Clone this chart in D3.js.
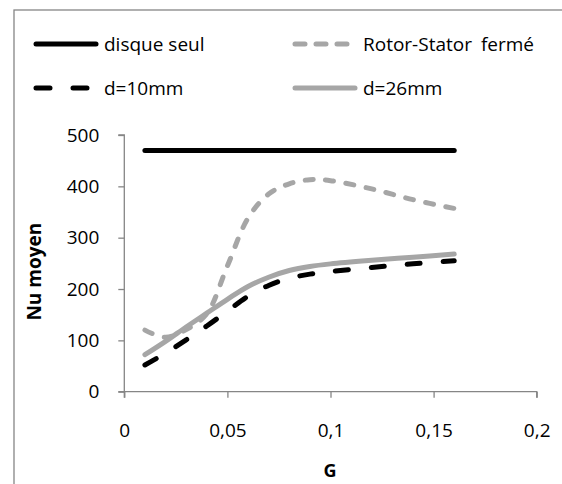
<!DOCTYPE html>
<html>
<head>
<meta charset="utf-8">
<script src="https://cdn.jsdelivr.net/npm/d3@7"></script>
<style>
  html, body { margin: 0; padding: 0; background: #fff; }
  svg { display: block; font-family: "Open Sans", sans-serif; }
</style>
</head>
<body>
<svg id="chart" width="562" height="484"></svg>
<script>
// Mean Nusselt number versus gap ratio G
const gValues = [0.01, 0.02, 0.03, 0.04, 0.05, 0.06, 0.07, 0.08, 0.09, 0.1, 0.12, 0.14, 0.16];
const disqueSeul = [470, 470, 470, 470, 470, 470, 470, 470, 470, 470, 470, 470, 470];
const rotorStator = [120, 106, 121, 152, 245, 338, 385, 405, 413, 411, 395, 374, 357];
const d10 = [52, 75, 101, 128, 157, 186, 207, 221, 229, 234, 242, 249, 255];
const d26 = [72, 98, 126, 153, 180, 205, 223, 236, 244, 249, 256, 262, 268];

const xTicks = [0, 0.05, 0.1, 0.15, 0.2];
const yTicks = [0, 100, 200, 300, 400, 500];

const seriesNames = ["disque seul", "Rotor-Stator fermé", "d=10mm", "d=26mm"];

const BLACK = "#000000";
const GREY = "#a6a6a6";
const AXIS = "#868686";

const series = [
  { name: seriesNames[0], values: disqueSeul, color: BLACK, dash: null },
  { name: seriesNames[1], values: rotorStator, color: GREY, dash: "8,12.5" },
  { name: seriesNames[2], values: d10, color: BLACK, dash: "13,23" },
  { name: seriesNames[3], values: d26, color: GREY, dash: null }
];

const svg = d3.select("#chart");

// outer chart frame
svg.append("rect")
  .attr("x", 14).attr("y", 10)
  .attr("width", 600).attr("height", 600)
  .attr("fill", "#fff")
  .attr("stroke", AXIS).attr("stroke-width", 1.3);

const x = d3.scaleLinear().domain([0, 0.2]).range([124.3, 536.7]);
const y = d3.scaleLinear().domain([0, 500]).range([391.7, 135]);

const fmt = d => String(d).replace(".", ",");

// y axis
const yAxis = svg.append("g")
  .attr("transform", `translate(${x(0)},0)`)
  .call(d3.axisLeft(y).tickValues(yTicks).tickSize(6).tickPadding(19).tickFormat(d => d));
// x axis
const xAxis = svg.append("g")
  .attr("transform", `translate(0,${y(0)})`)
  .call(d3.axisBottom(x).tickValues(xTicks).tickSize(6).tickPadding(26).tickFormat(fmt));

[yAxis, xAxis].forEach(a => {
  a.select(".domain").attr("stroke", AXIS).attr("stroke-width", 1.3);
  a.selectAll(".tick line").attr("stroke", AXIS).attr("stroke-width", 1.3);
  a.selectAll(".tick text")
    .attr("fill", "#000")
    .style("font-family", "'Open Sans', sans-serif")
    .style("font-size", "19px");
});
yAxis.select(".domain").attr("d", `M-6,${y(0)}H0V${y(500)}H-6`);
xAxis.select(".domain").attr("d", `M${x(0)},6V0H${x(0.2)}V6`);

// curves
const line = d3.line()
  .x((d, i) => x(gValues[i]))
  .y(d => y(d))
  .curve(d3.curveCatmullRom.alpha(0.5));

svg.append("g").selectAll("path")
  .data(series)
  .join("path")
  .attr("d", s => line(s.values))
  .attr("fill", "none")
  .attr("stroke", s => s.color)
  .attr("stroke-width", 5)
  .attr("stroke-linecap", "round")
  .attr("stroke-linejoin", "round")
  .attr("stroke-dasharray", s => s.dash);

// axis titles
svg.append("text")
  .attr("x", 330).attr("y", 477)
  .attr("text-anchor", "middle")
  .style("font-weight", "bold").style("font-size", "18px")
  .text("G");

svg.append("text")
  .attr("transform", "translate(41,271.7) rotate(-90)")
  .attr("text-anchor", "middle")
  .style("font-weight", "bold").style("font-size", "19px")
  .text("Nu moyen");

// legend, two columns by two rows
const legendPos = [
  { x: 36, y: 44 },
  { x: 295, y: 44 },
  { x: 36, y: 88 },
  { x: 295, y: 88 }
];
const legendDash = [null, "10,11", "14,23", null];
const legendWordSpacing = ["0px", "4px", "0px", "0px"];

const legend = svg.append("g").selectAll("g")
  .data(series)
  .join("g")
  .attr("transform", (s, i) => `translate(${legendPos[i].x},${legendPos[i].y})`);

legend.append("line")
  .attr("x1", 0).attr("x2", 60)
  .attr("y1", 0).attr("y2", 0)
  .attr("stroke", s => s.color)
  .attr("stroke-width", 5)
  .attr("stroke-linecap", "round")
  .attr("stroke-dasharray", (s, i) => legendDash[i]);

legend.append("text")
  .attr("x", 68).attr("y", 7)
  .style("font-size", "19px")
  .style("word-spacing", (s, i) => legendWordSpacing[i])
  .text(s => s.name);
</script>
</body>
</html>
